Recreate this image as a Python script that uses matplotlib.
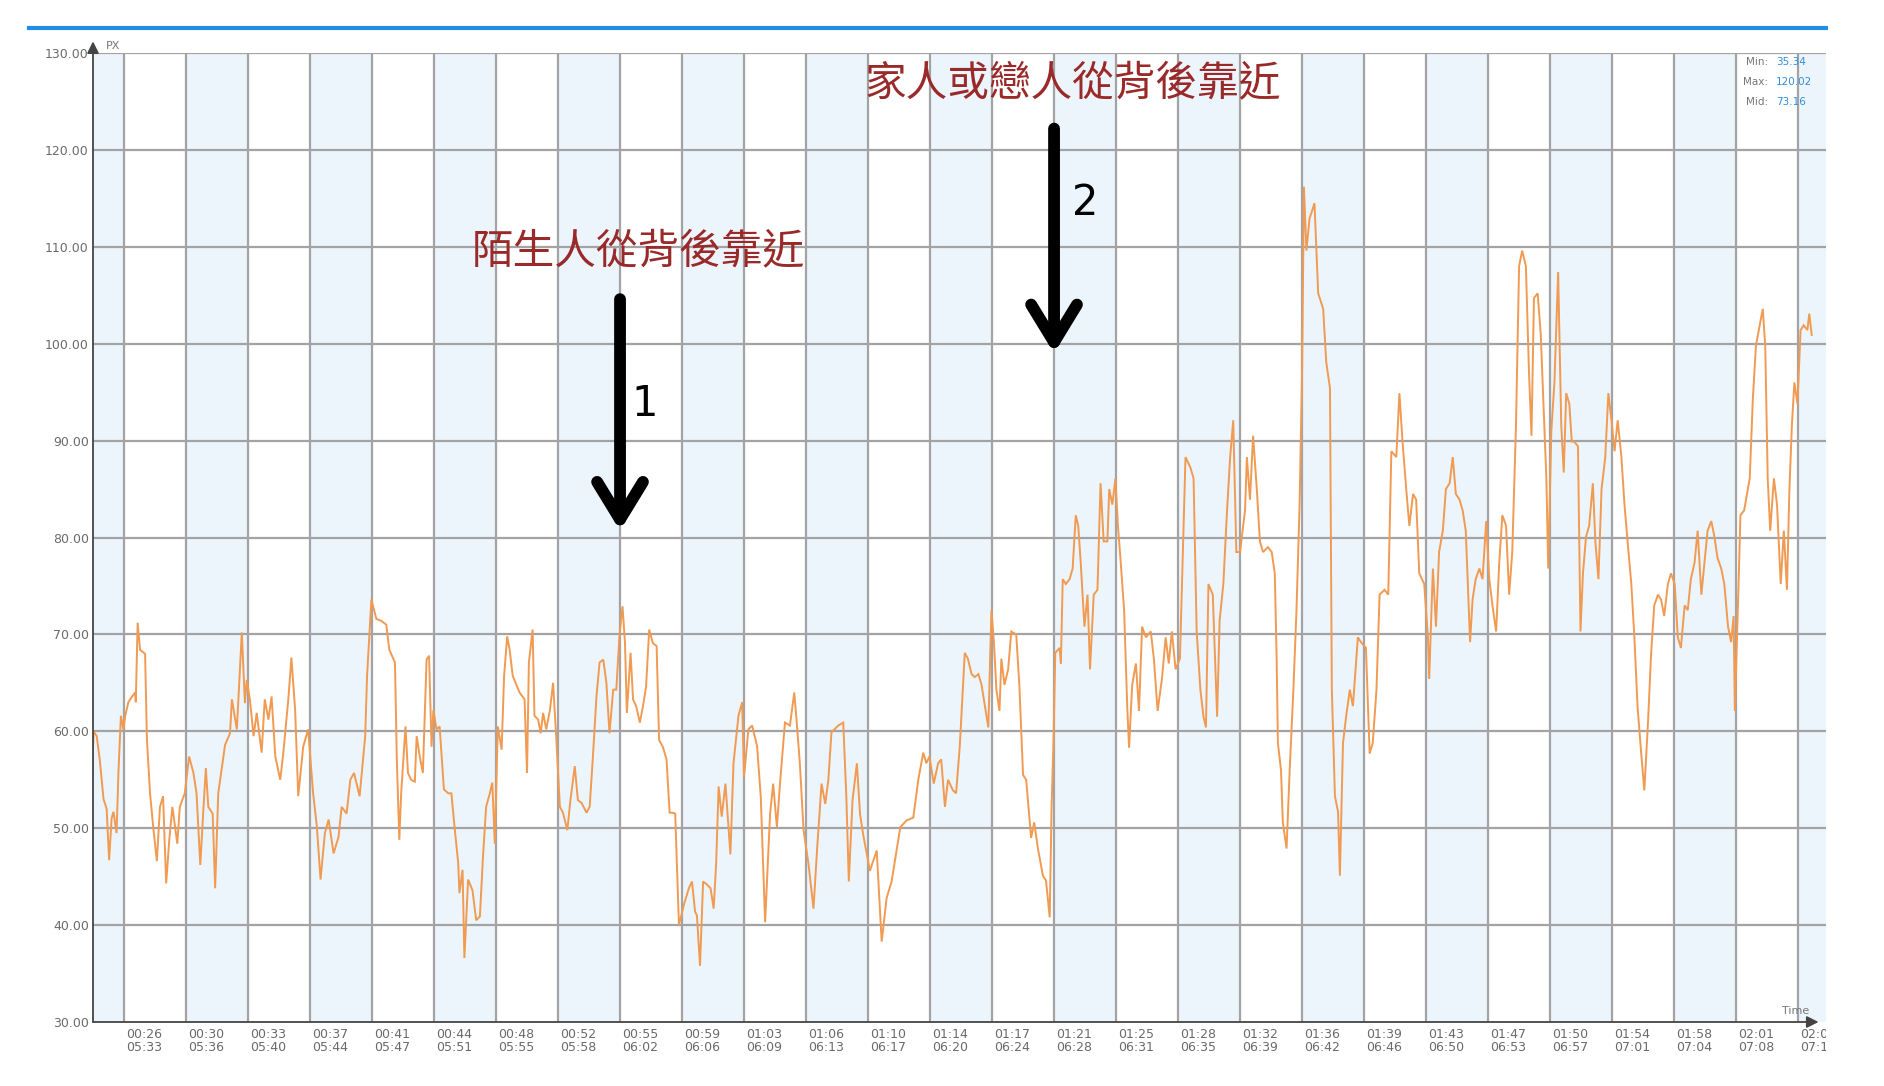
import matplotlib
matplotlib.use('Agg')
import matplotlib.pyplot as plt
from matplotlib.lines import Line2D
import matplotlib.transforms as mtransforms

# ---------------- data ----------------
elapsed_labels = ['00:26', '00:30', '00:33', '00:37', '00:41', '00:44', '00:48', '00:52', '00:55',
                  '00:59', '01:03', '01:06', '01:10', '01:14', '01:17', '01:21', '01:25', '01:28',
                  '01:32', '01:36', '01:39', '01:43', '01:47', '01:50', '01:54', '01:58', '02:01', '02:05']
clock_labels = ['05:33', '05:36', '05:40', '05:44', '05:47', '05:51', '05:55', '05:58', '06:02',
                '06:06', '06:09', '06:13', '06:17', '06:20', '06:24', '06:28', '06:31', '06:35',
                '06:39', '06:42', '06:46', '06:50', '06:53', '06:57', '07:01', '07:04', '07:08', '07:12']
y_ticks = [30, 40, 50, 60, 70, 80, 90, 100, 110, 120, 130]

# time position in tick intervals (0 = first labelled tick)
time_pos = [
    -0.52, -0.49, -0.44, -0.39, -0.33, -0.28, -0.24, -0.20, -0.17, -0.12, -0.09, -0.05, -0.01, 0.02, 0.07,
    0.12, 0.18, 0.19, 0.22, 0.26, 0.34, 0.37, 0.42, 0.47, 0.53, 0.58, 0.63, 0.68, 0.73, 0.78, 0.86, 0.90,
    0.98, 1.05, 1.12, 1.17, 1.23, 1.28, 1.32, 1.36, 1.43, 1.47, 1.52, 1.63, 1.71, 1.74, 1.82, 1.90, 1.95,
    1.98, 2.03, 2.09, 2.14, 2.22, 2.27, 2.33, 2.38, 2.44, 2.52, 2.57, 2.65, 2.70, 2.76, 2.81, 2.89, 2.97,
    3.05, 3.11, 3.17, 3.24, 3.30, 3.38, 3.46, 3.51, 3.59, 3.65, 3.71, 3.80, 3.89, 3.92, 3.99,
    4.07, 4.15, 4.23, 4.28, 4.37, 4.40, 4.44, 4.47, 4.54, 4.58, 4.63, 4.69, 4.72, 4.77, 4.82, 4.88, 4.92,
    4.96, 4.99, 5.04, 5.09, 5.16, 5.23, 5.28, 5.33, 5.39, 5.41, 5.46, 5.49, 5.55, 5.62, 5.68, 5.74, 5.79,
    5.84, 5.90, 5.94, 5.98, 6.03, 6.09, 6.13, 6.18, 6.22, 6.27, 6.38, 6.46, 6.50, 6.53, 6.59, 6.62, 6.68,
    6.72, 6.76, 6.81, 6.87, 6.92, 6.97, 7.03, 7.08, 7.15, 7.20, 7.27, 7.32, 7.38, 7.46, 7.51, 7.56, 7.62,
    7.67, 7.73, 7.78, 7.83, 7.89, 7.94, 7.99, 8.04, 8.08, 8.11, 8.17, 8.21, 8.26, 8.32, 8.37, 8.42, 8.47,
    8.53, 8.59, 8.63, 8.69, 8.75, 8.80, 8.85,
    8.89, 8.95, 9.03, 9.11, 9.16, 9.21, 9.24, 9.29, 9.34, 9.40, 9.46, 9.51, 9.55, 9.59, 9.64, 9.70, 9.78,
    9.83, 9.91, 9.97, 10.00, 10.07, 10.13, 10.21, 10.27, 10.34, 10.42, 10.47, 10.53, 10.58, 10.66, 10.74,
    10.81, 10.85, 10.90, 10.96, 11.04, 11.12, 11.18, 11.25, 11.31, 11.36, 11.41, 11.52, 11.60, 11.65,
    11.69, 11.75, 11.82, 11.87, 11.92, 12.03, 12.14, 12.22, 12.30, 12.38, 12.46, 12.52, 12.62, 12.73,
    12.81, 12.89, 12.94, 12.99, 13.06, 13.13, 13.18, 13.24, 13.29, 13.37, 13.42, 13.48,
    13.56, 13.61, 13.67, 13.72, 13.78, 13.83, 13.94, 13.99, 14.03, 14.07, 14.12, 14.15, 14.20, 14.26,
    14.31, 14.39, 14.44, 14.50, 14.55, 14.63, 14.68, 14.74, 14.82, 14.87, 14.93, 14.96, 14.99, 15.02,
    15.09, 15.11, 15.14, 15.19, 15.25, 15.30, 15.35, 15.39, 15.43, 15.49, 15.54, 15.58, 15.64, 15.70,
    15.75, 15.80, 15.86, 15.89, 15.94, 15.99, 16.03, 16.07, 16.13, 16.18, 16.21, 16.26, 16.32, 16.37,
    16.42, 16.48, 16.56, 16.61, 16.67, 16.74, 16.80, 16.85, 16.90, 16.96, 17.03, 17.08, 17.12, 17.20,
    17.25, 17.30, 17.36, 17.41, 17.45, 17.49, 17.56, 17.63, 17.67, 17.73, 17.79, 17.84, 17.89, 17.94,
    18.00, 18.08, 18.11,
    18.16, 18.21, 18.27, 18.32, 18.37, 18.45, 18.51, 18.56, 18.59, 18.61, 18.66, 18.69, 18.75, 18.80,
    18.86, 18.91, 18.96, 19.00, 19.03, 19.07, 19.12, 19.20, 19.26, 19.34, 19.39, 19.45, 19.48, 19.53,
    19.58, 19.61, 19.66, 19.71, 19.77, 19.82, 19.90, 19.95, 20.03, 20.09, 20.14, 20.20, 20.25, 20.33,
    20.39, 20.44, 20.52, 20.57, 20.62, 20.68, 20.73, 20.79, 20.84, 20.89, 20.97, 21.03, 21.05, 21.11,
    21.16, 21.21, 21.27, 21.32, 21.38, 21.43, 21.48, 21.54, 21.59, 21.64, 21.71, 21.75, 21.80, 21.86,
    21.91, 21.97, 22.02, 22.07, 22.13, 22.18, 22.23, 22.29, 22.34, 22.39, 22.45, 22.50, 22.55, 22.61,
    22.66, 22.70, 22.74, 22.80, 22.85,
    22.88, 22.94, 22.97, 23.02, 23.07, 23.13, 23.18, 23.22, 23.26, 23.31, 23.35, 23.39, 23.45, 23.49,
    23.53, 23.58, 23.63, 23.69, 23.73, 23.78, 23.83, 23.89, 23.94, 23.99, 24.04, 24.09, 24.15, 24.20,
    24.25, 24.31, 24.36, 24.41, 24.47, 24.52, 24.58, 24.63, 24.68, 24.74, 24.79, 24.84, 24.90, 24.95,
    25.01, 25.06, 25.11, 25.17, 25.22, 25.27, 25.33, 25.38, 25.44, 25.49, 25.54, 25.60, 25.65, 25.70,
    25.76, 25.81, 25.87, 25.92, 25.96, 25.98, 26.03, 26.07, 26.13, 26.22, 26.27, 26.32, 26.38, 26.43,
    26.47, 26.51, 26.55, 26.61, 26.66, 26.72, 26.77, 26.82, 26.86, 26.90, 26.94, 26.99, 27.04, 27.09,
    27.15, 27.18, 27.22,
]
pulse = [
    54.0, 60.0, 59.5, 57.0, 53.0, 52.0, 46.7, 51.0, 51.7, 49.5, 55.7, 61.6, 60.2, 61.6, 63.0,
    63.5, 64.0, 63.0, 71.2, 68.4, 68.0, 59.1, 53.6, 50.2, 46.6, 52.2, 53.3, 44.3, 48.8, 52.2, 48.4, 52.2,
    53.6, 57.4, 55.7, 53.6, 46.2, 51.9, 56.2, 52.2, 51.5, 43.8, 53.6, 58.6, 59.8, 63.3, 60.2, 70.2, 62.9,
    65.3, 63.3, 59.5, 61.9, 57.8, 63.3, 61.2, 63.6, 57.4, 55.0, 57.8, 63.3, 67.6, 62.2, 53.3, 58.4, 60.2,
    53.6, 50.2, 44.7, 49.5, 50.9, 47.4, 49.1, 52.2, 51.5, 55.0, 55.7, 53.3, 59.5, 65.7, 73.6,
    71.6, 71.4, 71.0, 68.4, 67.1, 57.1, 48.8, 53.6, 60.5, 55.7, 55.0, 54.8, 59.5, 57.4, 55.7, 67.4, 67.8,
    58.4, 62.2, 60.2, 60.5, 54.0, 53.6, 53.6, 50.2, 46.4, 43.3, 45.7, 36.6, 44.7, 43.6, 40.5, 40.9, 47.1,
    52.2, 53.6, 54.7, 48.4, 60.5, 58.1, 65.7, 69.8, 68.4, 65.7, 64.0, 63.3, 55.7, 67.1, 70.5, 61.6, 61.2,
    59.8, 61.9, 60.2, 62.2, 65.0, 59.5, 52.2, 51.6, 49.8, 52.9, 56.4, 52.9, 52.6, 51.6, 52.2, 57.1, 63.6,
    67.1, 67.4, 65.0, 59.8, 64.3, 64.3, 69.8, 72.9, 69.1, 61.9, 68.1, 63.3, 62.6, 60.9, 62.6, 64.6, 70.5,
    69.1, 68.8, 59.1, 58.4, 57.1, 51.6, 51.6,
    51.5, 40.0, 42.1, 43.8, 44.5, 41.4, 41.0, 35.8, 44.5, 44.2, 43.8, 41.7, 46.3, 54.3, 51.2, 54.6, 47.3,
    56.7, 61.6, 63.0, 55.3, 60.2, 60.6, 58.5, 53.2, 40.3, 51.5, 54.6, 50.1, 54.6, 60.9, 60.6,
    64.0, 60.9, 56.7, 49.8, 46.3, 41.7, 48.0, 54.6, 52.5, 55.0, 59.9, 60.6, 60.9, 53.2,
    44.5, 52.9, 56.7, 51.5, 49.4, 45.6, 47.7, 38.3, 42.8, 44.5, 47.7, 50.1, 50.8, 51.1,
    55.0, 57.8, 56.7, 57.4, 54.6, 56.7, 57.1, 52.2, 55.0, 53.9, 53.6, 58.5,
    68.1, 67.5, 65.9, 65.6, 65.9, 64.8, 60.4, 72.5, 69.2, 64.3, 62.1, 67.5, 64.8, 66.4,
    70.3, 70.0, 64.8, 55.5, 55.0, 49.0, 50.6, 47.9, 45.1, 44.6, 40.8, 52.2, 58.8, 68.1,
    68.6, 67.0, 75.7, 75.2, 75.7, 76.8, 82.3, 81.2, 77.4, 70.8, 74.1, 66.4, 74.1, 74.6,
    85.6, 79.6, 79.6, 85.0, 83.4, 86.1, 81.2, 77.9, 72.5, 62.6, 58.3, 64.8, 67.0, 62.1,
    70.8, 69.7, 70.3, 67.5, 62.1, 65.4, 69.7, 67.0, 70.3, 66.4, 67.5, 79.1, 88.3, 87.2,
    86.1, 70.3, 64.3, 61.5, 60.4, 75.2, 74.1, 61.5, 71.4, 75.2, 82.8, 88.3, 92.1, 78.5,
    78.5, 82.8, 88.3,
    83.9, 90.5, 85.0, 79.6, 78.5, 79.0, 78.5, 76.3, 67.5, 58.8, 56.0, 50.6, 47.9, 56.0,
    64.3, 72.5, 83.4, 97.0, 116.2, 109.6, 112.9, 114.5, 105.2, 103.6, 98.1, 95.4, 64.3, 53.3,
    51.7, 45.1, 58.8, 61.5, 64.3, 62.6, 69.7, 69.2, 68.6, 57.7, 58.8, 64.3, 74.1, 74.6,
    74.1, 88.9, 88.3, 94.9, 89.9, 85.0, 81.2, 84.5, 83.9, 76.3, 75.2, 69.7, 65.4, 76.8,
    70.8, 78.5, 80.7, 85.0, 85.6, 88.3, 84.5, 83.9, 82.8, 80.7, 69.2, 73.6, 75.7, 76.8,
    75.7, 81.7, 75.7, 73.0, 70.3, 77.4, 82.3, 81.2, 74.1, 78.5, 91.6, 108.0, 109.6, 108.0,
    97.0, 90.5, 104.7, 105.2, 100.9,
    96.0, 86.1, 76.8, 91.0, 96.0, 107.4, 91.6, 86.7, 94.9, 93.8, 89.9, 89.9, 89.4, 70.3,
    76.3, 80.1, 81.2, 85.6, 79.6, 75.7, 85.0, 88.3, 94.9, 92.1, 88.9, 92.1, 88.3, 83.4,
    79.6, 75.2, 69.7, 62.6, 57.7, 53.9, 61.0, 68.1, 73.0, 74.1, 73.6, 71.9, 75.2, 76.3,
    75.2, 69.7, 68.6, 73.0, 72.5, 75.7, 77.4, 80.7, 74.1, 77.4, 80.7, 81.7, 80.1, 77.9,
    76.8, 75.2, 70.8, 69.2, 71.9, 62.1, 73.0, 82.3, 82.8, 86.1, 94.3, 99.8, 101.9, 103.6,
    99.8, 86.1, 80.7, 86.1, 83.4, 75.2, 80.7, 74.6, 85.0, 91.6, 96.0, 93.8, 101.4, 101.9,
    101.4, 103.1, 100.9,
]

stats_names = ['Min:', 'Max:', 'Mid:']
stats_values = ['35.34', '120.02', '73.16']

note_stranger = '陌生人從背後靠近'
note_family = '家人或戀人從背後靠近'
arrow_labels = ['1', '2']

# ---------------- figure ----------------
W, H = 1884, 1086
fig = plt.figure(figsize=(W / 100, H / 100), dpi=100)
fig.patch.set_facecolor('white')
left, right, top, bottom = 93 / W, 1826 / W, 1 - 53 / H, 1 - 1022 / H
ax = fig.add_axes([left, bottom, right - left, top - bottom])
ax.set_xlim(-0.5, 27.45)
ax.set_ylim(30, 130)

# alternating bands
for k in range(-1, 28, 2):
    ax.axvspan(k, k + 1, color='#EDF5FC', zorder=0, lw=0)
# grid
for k in range(len(elapsed_labels)):
    ax.axvline(k, color='#A3A3A3', lw=1.6, zorder=1)
for yv in y_ticks[1:]:
    ax.axhline(yv, color='#A3A3A3', lw=1.6, zorder=1)

ax.plot(time_pos, pulse, color='#F09A52', lw=1.4, zorder=3, solid_joinstyle='miter')

# axes styling
for s in ['top', 'right', 'bottom', 'left']:
    ax.spines[s].set_visible(False)
ax.set_xticks([])
ax.set_yticks(y_ticks)
ax.set_yticklabels([f'{v:.2f}' for v in y_ticks], fontsize=9, color='#6a6a6a')
ax.tick_params(axis='y', length=0, pad=3)

# axis lines with arrows
ax.annotate('', xy=(-0.5, 131.2), xytext=(-0.5, 30), xycoords='data',
            arrowprops=dict(arrowstyle='-|>,head_length=0.5,head_width=0.25', color='#444444',
                            lw=1.3, shrinkA=0, shrinkB=0, mutation_scale=14), annotation_clip=False)
ax.annotate('', xy=(27.33, 30), xytext=(-0.5, 30), xycoords='data',
            arrowprops=dict(arrowstyle='-|>,head_length=0.5,head_width=0.25', color='#444444',
                            lw=1.3, shrinkA=0, shrinkB=0, mutation_scale=14), annotation_clip=False)
ax.text(-0.3, 130.2, 'PX', fontsize=8, color='#777777', ha='left', va='bottom', clip_on=False)
ax.text(27.18, 30.6, 'Time', fontsize=8, color='#777777', ha='right', va='bottom', clip_on=False)

# x tick labels (two rows), clipped at the right edge of the plot
clip_bbox = mtransforms.TransformedBbox(mtransforms.Bbox([[0, 0], [right, 1]]), fig.transFigure)
trans = mtransforms.blended_transform_factory(ax.transData, ax.transAxes)
for k, (e, c) in enumerate(zip(elapsed_labels, clock_labels)):
    t = ax.text(k + 0.03, -0.006, e + '\n' + c, transform=trans, fontsize=9, color='#6a6a6a',
                ha='left', va='top', linespacing=1.05)
    t.set_clip_on(True)
    t.set_clip_path(None)
    t.set_clip_box(clip_bbox)

# stats box
for i, (nm, val) in enumerate(zip(stats_names, stats_values)):
    yv = 129.1 - 2.1 * i
    ax.text(26.52, yv, nm, fontsize=7.5, color='#777777', ha='right', va='center')
    ax.text(26.64, yv, val, fontsize=7.5, color='#2F8FE0', ha='left', va='center')

# annotations
cjk = ['Noto Sans CJK TC', 'DejaVu Sans']
ax.text(8.29, 109.5, note_stranger, fontsize=30, color='#9A2A2A', ha='center', va='center',
        family=cjk, zorder=6)
ax.text(15.3, 126.8, note_family, fontsize=30, color='#9A2A2A', ha='center', va='center',
        family=cjk, zorder=6)
arrow_kw = dict(arrowstyle='->,head_length=0.9,head_width=0.55', color='black', lw=8.5,
                shrinkA=0, shrinkB=0, mutation_scale=30, capstyle='round', joinstyle='round')
ax.annotate('', xy=(8.0, 80.7), xytext=(8.0, 104.6), arrowprops=arrow_kw, zorder=6)
ax.annotate('', xy=(15.0, 99.0), xytext=(15.0, 122.2), arrowprops=arrow_kw, zorder=6)
ax.text(8.4, 93.8, arrow_labels[0], fontsize=30, color='black', ha='center', va='center', zorder=6)
ax.text(15.5, 114.5, arrow_labels[1], fontsize=30, color='black', ha='center', va='center', zorder=6)

# top blue bar
fig.add_artist(Line2D([29 / W, right], [1 - 28 / H, 1 - 28 / H], transform=fig.transFigure,
                      color='#1E8FE3', lw=3))

fig.savefig('out.png', dpi=100, facecolor='white')
